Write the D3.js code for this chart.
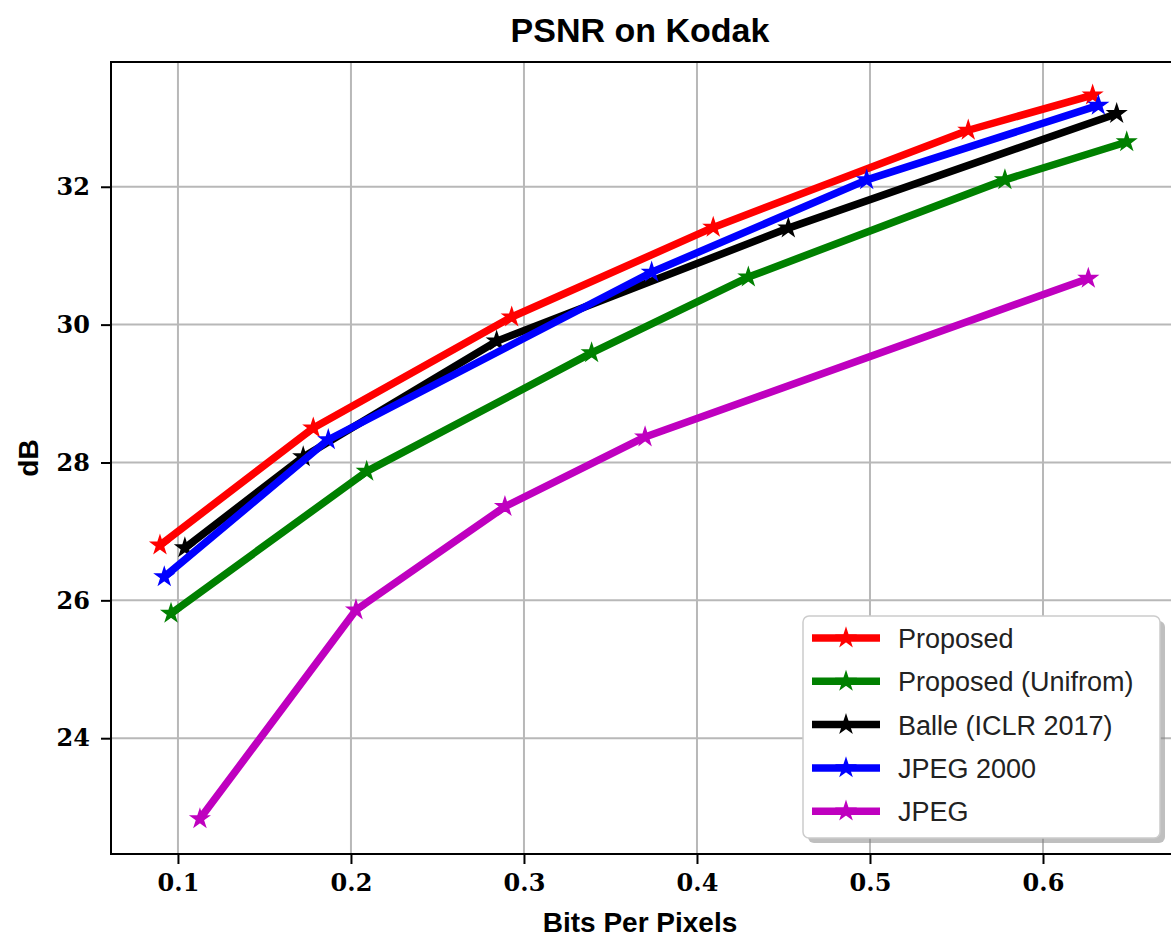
<!DOCTYPE html>
<html>
<head>
<meta charset="utf-8">
<script src="https://cdn.jsdelivr.net/npm/d3@7"></script>
<style>
  body { margin: 0; background: #fff; }
  svg { display: block; }
</style>
</head>
<body>
<figure id="chart" style="margin:0"></figure>
<script>
// values
const proposedX = [0.0896, 0.1782, 0.2929, 0.4094, 0.5568, 0.6287];
const proposedY = [26.80, 28.50, 30.11, 31.41, 32.82, 33.33];

const uniformX = [0.0960, 0.2091, 0.3391, 0.4297, 0.5780, 0.6484];
const uniformY = [25.81, 27.87, 29.59, 30.69, 32.10, 32.65];

const balleX = [0.1040, 0.1724, 0.2842, 0.4528, 0.6426];
const balleY = [26.76, 28.08, 29.76, 31.40, 33.06];

const jp2kX = [0.0921, 0.1869, 0.3738, 0.4981, 0.6320];
const jp2kY = [26.34, 28.33, 30.76, 32.10, 33.18];

const jpegX = [0.1127, 0.2029, 0.2890, 0.3700, 0.6262];
const jpegY = [22.83, 25.86, 27.36, 28.37, 30.67];

const seriesNames = ["Proposed", "Proposed (Unifrom)", "Balle (ICLR 2017)", "JPEG 2000", "JPEG"];
const seriesColors = ["#ff0000", "#008000", "#000000", "#0000ff", "#bf00bf"];
const xTicks = [0.1, 0.2, 0.3, 0.4, 0.5, 0.6];
const yTicks = [24, 26, 28, 30, 32];

const series = [
  [proposedX, proposedY],
  [uniformX, uniformY],
  [balleX, balleY],
  [jp2kX, jp2kY],
  [jpegX, jpegY]
].map((s, i) => ({
  name: seriesNames[i],
  color: seriesColors[i],
  points: s[0].map((x, j) => ({ x: x, y: s[1][j] }))
}));

const width = 1171, height = 937;
const plotLeft = 111, plotRight = 1175, plotTop = 62, plotBottom = 854;

const svg = d3.select("figure#chart")
  .append("svg")
  .attr("width", width)
  .attr("height", height);

const x = d3.scaleLinear().domain([0.0613, 0.6763]).range([plotLeft, plotRight]);
const y = d3.scaleLinear().domain([22.32, 33.81]).range([plotBottom, plotTop]);

// grid
svg.append("g")
  .selectAll("line")
  .data(xTicks)
  .enter()
  .append("line")
  .attr("x1", d => x(d)).attr("x2", d => x(d))
  .attr("y1", plotTop).attr("y2", plotBottom)
  .attr("stroke", "#b8b8b8").attr("stroke-width", 2);

svg.append("g")
  .selectAll("line")
  .data(yTicks)
  .enter()
  .append("line")
  .attr("x1", plotLeft).attr("x2", plotRight)
  .attr("y1", d => y(d)).attr("y2", d => y(d))
  .attr("stroke", "#b8b8b8").attr("stroke-width", 2);

// lines + star markers
const line = d3.line().x(d => x(d.x)).y(d => y(d.y));
const star = d3.symbol().type(d3.symbolStar).size(95);

series.forEach(s => {
  const g = svg.append("g");
  g.append("path")
    .datum(s.points)
    .attr("d", line)
    .attr("fill", "none")
    .attr("stroke", s.color)
    .attr("stroke-width", 7.5)
    .attr("stroke-linejoin", "round");
  g.selectAll("path.mark")
    .data(s.points)
    .enter()
    .append("path")
    .attr("class", "mark")
    .attr("transform", d => "translate(" + x(d.x) + "," + y(d.y) + ")")
    .attr("d", star)
    .attr("fill", s.color)
    .attr("stroke", s.color)
    .attr("stroke-width", 1.5);
});

// spines
svg.append("rect")
  .attr("x", plotLeft).attr("y", plotTop)
  .attr("width", plotRight - plotLeft).attr("height", plotBottom - plotTop)
  .attr("fill", "none").attr("stroke", "#000").attr("stroke-width", 2);

// axes
const xAxis = svg.append("g")
  .attr("transform", "translate(0," + plotBottom + ")")
  .call(d3.axisBottom(x).tickValues(xTicks).tickSize(10).tickPadding(10).tickFormat(d3.format(".1f")));
const yAxis = svg.append("g")
  .attr("transform", "translate(" + plotLeft + ",0)")
  .call(d3.axisLeft(y).tickValues(yTicks).tickSize(10).tickPadding(11).tickFormat(d3.format("d")));

[xAxis, yAxis].forEach(a => {
  a.select(".domain").remove();
  a.selectAll("line").attr("stroke", "#000").attr("stroke-width", 2);
  a.selectAll("text")
    .attr("fill", "#000")
    .style("font-family", "'DejaVu Serif', serif")
    .style("font-weight", "bold")
    .style("font-size", "24px");
});

// title and labels
svg.append("text")
  .attr("x", 640).attr("y", 42)
  .attr("text-anchor", "middle")
  .style("font-family", "'Liberation Sans', Arial, sans-serif")
  .style("font-weight", "bold")
  .style("font-size", "34px")
  .text("PSNR on Kodak");

svg.append("text")
  .attr("x", 640).attr("y", 932)
  .attr("text-anchor", "middle")
  .style("font-family", "'Liberation Sans', Arial, sans-serif")
  .style("font-weight", "bold")
  .style("font-size", "28px")
  .text("Bits Per Pixels");

svg.append("text")
  .attr("transform", "translate(38," + (plotTop + plotBottom) / 2 + ") rotate(-90)")
  .attr("text-anchor", "middle")
  .style("font-family", "'Liberation Sans', Arial, sans-serif")
  .style("font-weight", "bold")
  .style("font-size", "28px")
  .text("dB");

// legend
const legend = svg.append("g").attr("transform", "translate(803,616)");
legend.append("rect")
  .attr("x", 5).attr("y", 5)
  .attr("width", 357).attr("height", 222)
  .attr("rx", 6)
  .attr("fill", "#808080").attr("opacity", 0.5);
legend.append("rect")
  .attr("width", 357).attr("height", 222)
  .attr("rx", 6)
  .attr("fill", "#fff")
  .attr("stroke", "#cccccc").attr("stroke-width", 1.5);

const items = legend.selectAll("g.item")
  .data(series)
  .enter()
  .append("g")
  .attr("class", "item")
  .attr("transform", (d, i) => "translate(0," + (22 + i * 43.3) + ")");
items.append("line")
  .attr("x1", 9).attr("x2", 77)
  .attr("stroke", d => d.color).attr("stroke-width", 7.5);
items.append("path")
  .attr("transform", "translate(43,0)")
  .attr("d", star)
  .attr("fill", d => d.color).attr("stroke", d => d.color).attr("stroke-width", 1.5);
items.append("text")
  .attr("x", 95).attr("y", 10)
  .style("font-family", "'Liberation Sans', Arial, sans-serif")
  .style("font-size", "27px")
  .attr("fill", "#222")
  .text(d => d.name);
</script>
</body>
</html>
